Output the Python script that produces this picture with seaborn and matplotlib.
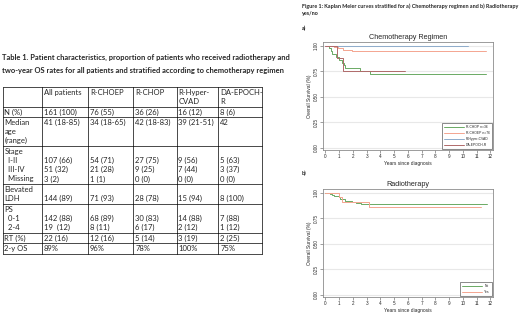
import matplotlib
matplotlib.use("Agg")
import matplotlib.pyplot as plt
import seaborn as sns
import pandas as pd
from matplotlib.lines import Line2D

# ---------------- Table 1 data ----------------
col_headers = ["All patients", "R-CHOEP", "R-CHOP", "R-Hyper-\nCVAD", "DA-EPOCH-\nR"]
n_pct = ["161 (100)", "76 (55)", "36 (26)", "16 (12)", "8 (6)"]
median_age = ["41 (18-85)", "34 (18-65)", "42 (18-83)", "39 (21-51)", "42"]
stage_1_2 = ["107 (66)", "54 (71)", "27 (75)", "9 (56)", "5 (63)"]
stage_3_4 = ["51 (32)", "21 (28)", "9 (25)", "7 (44)", "3 (37)"]
stage_missing = ["3 (2)", "1 (1)", "0 (0)", "0 (0)", "0 (0)"]
ldh = ["144 (89)", "71 (93)", "28 (78)", "15 (94)", "8 (100)"]
ps_0_1 = ["142 (88)", "68 (89)", "30 (83)", "14 (88)", "7 (88)"]
ps_2_4 = ["19  (12)", "8 (11)", "6 (17)", "2 (12)", "1 (12)"]
rt = ["22 (16)", "12 (16)", "5 (14)", "3 (19)", "2 (25)"]
os2y = ["89%", "96%", "78%", "100%", "75%"]

# ---------------- KM curves (step points) ----------------
chemo_names = ["R-CHOP n=36", "R-CHOEP n=76", "R-Hyper-CVAD", "DA-EPOCH-R"]
chop_t = [0, 0.25, 0.4, 0.5, 0.75, 0.95, 1.2, 1.35, 1.45, 2.55, 3.25, 11.7]
chop_s = [1.0, 0.972, 0.944, 0.917, 0.889, 0.861, 0.833, 0.806, 0.778, 0.75, 0.722, 0.722]
choep_t = [0, 0.65, 0.9, 1.3, 1.9, 11.7]
choep_s = [1.0, 0.987, 0.974, 0.961, 0.947, 0.947]
hyper_t = [0, 10.35]
hyper_s = [1.0, 1.0]
epoch_t = [0, 0.85, 1.3, 5.8]
epoch_s = [1.0, 0.875, 0.75, 0.75]

rt_names = ["No", "Yes"]
no_t = [0, 0.2, 0.35, 0.5, 0.6, 0.8, 0.95, 1.05, 1.2, 1.4, 1.6, 1.9, 2.2, 2.6, 3.2, 11.75]
no_s = [1.0, 0.993, 0.986, 0.978, 0.971, 0.964, 0.957, 0.942, 0.935, 0.921, 0.914, 0.906,
        0.899, 0.892, 0.885, 0.885]
yes_t = [0, 1.02, 1.2, 3.2, 11.3]
yes_s = [1.0, 0.955, 0.909, 0.864, 0.864]

chemo_colors = ["#6aaa64", "#f4a590", "#8eaccb", "#b06a6a"]
rt_colors = ["#6aaa64", "#f4a590"]

sns.set_style("white")
plt.rcParams['font.family'] = ['Liberation Sans', 'DejaVu Sans']

fig = plt.figure(figsize=(5.2, 3.14), dpi=100)

# full-figure axis in pixel coords for the table and captions
page = fig.add_axes([0, 0, 1, 1])
page.set_xlim(0, 520)
page.set_ylim(314, 0)
page.axis('off')

page.text(2, 57, "Table 1. Patient characteristics, proportion of patients who received radiotherapy and",
          fontsize=5.4, fontweight='bold', family='Lato', va='center')
page.text(2, 70, "two-year OS rates for all patients and stratified according to chemotherapy regimen",
          fontsize=5.4, fontweight='bold', family='Lato', va='center')

# table rows: each row a list of lines, each line [label, v1..v5]
blank = [""] * 5
hdr = [h.split("\n") for h in col_headers]
rows = [
    [[""] + [h[0] for h in hdr], [""] + [h[1] if len(h) > 1 else "" for h in hdr]],
    [["N (%)"] + n_pct],
    [["Median"] + median_age, ["age"] + blank, ["(range)"] + blank],
    [["Stage"] + blank, ["  I-II"] + stage_1_2, ["  III-IV"] + stage_3_4, ["  Missing"] + stage_missing],
    [["Elevated"] + blank, ["LDH"] + ldh],
    [["PS"] + blank, ["  0-1"] + ps_0_1, ["  2-4"] + ps_2_4],
    [["RT (%)"] + rt],
    [["2-y OS"] + os2y],
]
col_x = [2.7, 41.7, 88.3, 133.3, 176.7, 218.3, 262]
line_h = 9.2
pad = 1.3
y = 87
page.plot([col_x[0], col_x[-1]], [y, y], color='black', lw=0.5)
for row in rows:
    for i, line in enumerate(row):
        for j, txt in enumerate(line):
            page.text(col_x[j] + 1.8, y + pad / 2 + i * line_h + line_h / 2, txt,
                      fontsize=5.5, family='Lato', va='center')
    y_new = y + pad + len(row) * line_h
    page.plot([col_x[0], col_x[-1]], [y_new, y_new], color='black', lw=0.5)
    y = y_new
for x in col_x:
    page.plot([x, x], [87, y], color='black', lw=0.5)

page.text(302, 6, "Figure 1: Kaplan Meier curves stratified for a) Chemotherapy regimen and b) Radiotherapy",
          fontsize=3.9, fontweight='bold', family='Lato', va='center')
page.text(302, 13.5, "yes/no", fontsize=3.9, fontweight='bold', family='Lato', va='center')
page.text(302, 28, "a)", fontsize=3.9, fontweight='bold', family='Lato', va='center')
page.text(302, 173, "b)", fontsize=3.9, fontweight='bold', family='Lato', va='center')


def km_panel(ax, names, ts, ss, colors, title, legend_w):
    df = pd.concat([pd.DataFrame({'t': t, 's': s, 'grp': n}) for n, t, s in zip(names, ts, ss)])
    sns.lineplot(data=df, x='t', y='s', hue='grp', palette=colors, estimator=None, sort=False,
                 drawstyle='steps-post', lw=0.7, ax=ax, legend=False)
    ax.set_xlim(-0.18, 12.2)
    ax.set_ylim(-0.02, 1.035)
    ax.set_xticks(range(13))
    ax.set_yticks([0, 0.25, 0.5, 0.75, 1.0])
    ax.set_yticklabels(["0.00", "0.25", "0.50", "0.75", "1.00"], rotation=90, va='center')
    ax.yaxis.grid(True, color='#e8e8e8', lw=0.8)
    ax.set_axisbelow(True)
    ax.tick_params(length=2, width=0.4, color='#555555', pad=1, labelsize=3.3, bottom=True, left=True)
    for sp in ax.spines.values():
        sp.set_color('#8c8c8c')
        sp.set_linewidth(0.6)
    ax.set_xlabel("Years since diagnosis", fontsize=3.5, labelpad=1)
    ax.set_ylabel("Overall Survival (%)", fontsize=3.5, labelpad=1)
    ax.set_title(title, fontsize=5.2, pad=2)
    handles = [Line2D([], [], color=c, lw=0.7) for c in colors]
    leg = ax.legend(handles, names, loc='lower right', fontsize=2.4, handlelength=legend_w,
                    fancybox=False, frameon=True, borderaxespad=0.3, labelspacing=0.6,
                    handletextpad=0.6, borderpad=0.6)
    leg.get_frame().set_edgecolor('#333333')
    leg.get_frame().set_linewidth(0.5)


ax1 = fig.add_axes([323 / 520, 1 - 150 / 314, 170 / 520, 108 / 314])
km_panel(ax1, chemo_names, [chop_t, choep_t, hyper_t, epoch_t],
         [chop_s, choep_s, hyper_s, epoch_s], chemo_colors, "Chemotherapy Regimen", 6)

ax2 = fig.add_axes([323 / 520, 1 - 297 / 314, 170 / 520, 108 / 314])
km_panel(ax2, rt_names, [no_t, yes_t], [no_s, yes_s], rt_colors, "Radiotherapy", 6)

fig.savefig("out.png", dpi=100)
